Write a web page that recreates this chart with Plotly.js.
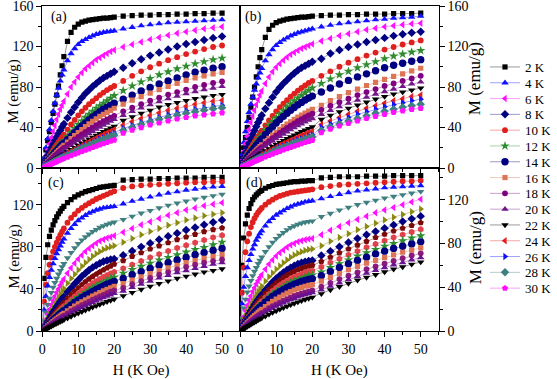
<!DOCTYPE html>
<html><head><meta charset="utf-8">
<script src="https://cdn.plot.ly/plotly-3.0.1.min.js"></script>
<style>html,body{margin:0;padding:0;background:#fff}#chart{width:557px;height:379px}</style>
</head><body><div id="chart"></div>
<script>
// Field values (kOe)
const H = [0,0.5,1,1.5,2,2.5,3,3.5,4,4.5,5,5.5,6, 7,8,9,10,11,12,13,14,15,16,17,18,19,20, 22.5,25,27.5,30,32.5,35,37.5,40,42.5,45,47.5,50];
const tempLabels = ['2 K','4 K','6 K','8 K','10 K','12 K','14 K','16 K','18 K','20 K','22 K','24 K','26 K','28 K','30 K'];
const panelLabels = ['(a)','(b)','(c)','(d)'];

// Panel (a)
const a2K = [0,9,18,27,36,45,54,63,72,81,92,101,110, 125,134,139,142,144,145,146,146.5,147,147.5,148,148,148.5,149, 150,150.5,151,151,151.5,151.5,152,152,152.5,152.5,153,153];
const a4K = [0,10,20,29,38,47,56,64,72,79,86,92,97, 106,113,118,122,125,127,129,130.5,132,133,134,134.5,135,135.5, 137.5,139,140.5,141.5,142.5,143.5,144,144.5,145,145.5,146,146.5];
const a6K = [0,6,12,18,24,30,36,42,48,53,58,62,66, 73,80,85,90,94,98,101,104,107,109,111,113,115,116.5, 119.5,122,124.5,127,129,131,133,134.5,136,137.5,138.5,139.5];
const a8K = [0,4,8,12,16,20,23.5,27,30.5,34,37,40.5,43.5, 49.5,55,60,65,69.5,73.5,77,80.5,83.5,86.5,89,91,93,95, 99,103.5,107.5,111,114,117,120,122.5,124.5,126.5,128.5,130];
const a10K = [0,3,6,9,12,15,18,20.5,23,25.5,28,30.5,33, 38,43,47.5,52,56,59.5,63,66,69,72,74.5,77,79,81, 86,91,95.5,99.5,103,106.5,109.5,112.5,115,117.5,119.5,121];
const a12K = [0,2.5,5,7.5,10,12.5,15,17,19,21,23,25,27, 31,35,39,43,46.5,50,53,56,59,61.5,64,66.5,69,71.5, 76.5,81,85,88.5,92,95,98,100.5,103,105,107,108.5];
const a14K = [0,2.2,4.4,6.6,8.8,11,13,15,17,19,21,23,24.5, 28,31.5,35,38.5,41.5,44.5,47.5,50.5,53,55.5,58,60,62,64, 68,72,76,79.5,83,86,89,92,94.5,96.5,98.5,100];
const a16K = [0,2,4,6,8,10,11.8,13.6,15.4,17.2,19,20.7,22.4, 25.7,29,32,35,38,41,43.5,46,48.5,51,53,55,57,59, 63,67,70.5,74,77.5,80.5,83.5,86.5,89,91,93,94.5];
const a18K = [0,1.8,3.6,5.4,7.1,8.8,10.5,12.1,13.7,15.3,16.8,18.3,19.8, 22.7,25.5,28.2,30.8,33.3,35.7,38,40.2,42.3,44.3,46.2,48,49.8,51.5, 56,59.5,63,66.5,69.5,72.5,75,77.5,80,82,84,85.5];
const a20K = [0,1.5,3,4.5,6,7.5,8.9,10.3,11.7,13.1,14.5,15.9,17.2, 19.8,22.3,24.8,27.2,29.5,31.8,34,36.2,38.3,40.4,42.4,44.3,46.2,48, 52,56,59.5,62.5,65.5,68.5,71,73.5,75.5,77.5,79,80.5];
const a22K = [0,1.2,2.4,3.6,4.8,6,7.2,8.3,9.4,10.5,11.6,12.7,13.8, 16,18.1,20.2,22.3,24.3,26.3,28.3,30.2,32.1,34,35.8,37.6,39.4,41, 47,50.5,54,57,60,62.5,64.5,66.5,68.5,70,71.5,72.5];
const a24K = [0,1.1,2.2,3.3,4.4,5.5,6.6,7.6,8.6,9.6,10.6,11.6,12.6, 14.6,16.6,18.5,20.4,22.3,24.2,26,27.8,29.6,31.4,33.1,34.8,36.4,38, 42.5,46,49,52,54.5,57,59,61,63,64.5,66,67];
const a26K = [0,1,2,3,4,5,6,6.9,7.8,8.7,9.6,10.5,11.4, 13.2,15,16.8,18.5,20.2,21.9,23.5,25.1,26.7,28.3,29.8,31.3,32.8,34.2, 39,42,45,47.5,50,52.5,54.5,56.5,58,59.5,61,62];
const a28K = [0,0.95,1.9,2.85,3.8,4.75,5.7,6.6,7.5,8.4,9.3,10.2,11, 12.7,14.4,16,17.6,19.2,20.8,22.3,23.8,25.3,26.8,28.2,29.6,31,32.3, 37,40,43,45.5,48,50,52,54,55.5,57,58.5,59.5];
const a30K = [0,0.8,1.6,2.4,3.2,4,4.8,5.6,6.4,7.2,8,8.7,9.4, 10.8,12.2,13.6,15,16.4,17.7,19,20.3,21.6,22.9,24.1,25.3,26.5,27.6, 34.5,37.5,40,42.5,44.5,46.5,48.5,50,51.5,52.5,53.5,54.5];

// Panel (b)
const b2K = [0,10,20,30,40,50,60,70,80,90,100,109,117, 129,137,141,143.5,145,146,147,147.5,148,148.5,149,149,149.5,150, 150.5,151,151,151.5,151.5,152,152,152,152.5,152.5,152.5,153];
const b4K = [0,13,25,36,46,55,63,70,77,83,89,94,98.5, 106,112,117,121,124,126.5,128.5,130.5,132,133.5,134.5,135.5,136.5,137.5, 139.5,141,142.5,143.5,144.5,145.5,146.5,147,148,148.5,149,150];
const b6K = [0,8,16,24,31,38,45,51,57,62.5,67.5,72,76, 83.5,90,95,99.5,103,106.5,109.5,112,114,116,118,119.5,121,122.5, 125.5,128,130.5,132.5,134.5,136.5,138,139.5,140.5,141.5,142.5,143];
const b8K = [0,5,10,15,20,24.5,29,33,37,41,45,48.5,52, 58.5,64.5,70,75,79.5,83.5,87,90.5,93.5,96.5,99,101,103,105, 108,113,116.5,119.5,122,124.5,126.5,128.5,130.5,132,133.5,134.5];
const b10K = [0,3.5,7,10.5,14,17,20,23,26,28.8,31.5,34.2,36.8, 42,47,51.5,56,60,63.5,67,70.5,73.5,76.5,79,81.5,84,86, 91,95.5,100,104,107.5,111,114,117,119.5,122,124,126];
const b12K = [0,3,6,9,12,14.8,17.5,20.2,22.8,25.4,27.9,30.3,32.7, 37.3,41.7,45.8,49.7,53.4,56.9,60.2,63.3,66.3,69.1,71.8,74.3,76.7,79, 83.5,88,92,95.5,99,102,105,108,110.5,112.5,114.5,116];
const b14K = [0,2.6,5.2,7.8,10.4,12.9,15.3,17.7,20,22.3,24.5,26.7,28.8, 33,37,40.8,44.4,47.8,51,54.1,57,59.8,62.4,64.8,67.1,69.2,71, 75,79,83,86.5,90,93,96,99,101.5,103.5,105.5,107];
const b16K = [0,2,4,6,8,10,12,13.9,15.8,17.6,19.4,21.2,22.9, 26.2,29.4,32.4,35.3,38.1,40.8,43.3,45.7,48,50.2,52.3,54.3,56.2,58, 62,66.5,70.5,74.5,78,81.5,84.5,87.5,90.5,93,96,98.5];
const b18K = [0,1.9,3.8,5.7,7.5,9.3,11,12.7,14.4,16,17.6,19.2,20.7, 23.7,26.6,29.4,32.1,34.7,37.2,39.6,41.9,44.1,46.2,48.2,50.1,51.9,53.6, 57.5,61.5,65,68.5,72,75,78,81,83.5,86,88.5,91];
const b20K = [0,1.7,3.4,5.1,6.8,8.4,10,11.5,13,14.5,16,17.4,18.8, 21.5,24.1,26.6,29,31.3,33.5,35.7,37.8,39.8,41.8,43.7,45.5,47.2,48.8, 53,57,60.5,64,67,70,73,75.5,78,80.5,83,85];
const b22K = [0,1.3,2.6,3.9,5.2,6.5,7.7,8.9,10.1,11.3,12.5,13.6,14.7, 16.9,19,21.1,23.1,25.1,27,28.9,30.7,32.5,34.2,35.9,37.5,39,40.5, 48,52,55.5,59,62,65,68,70.5,73,75,77,79];
const b24K = [0,1.15,2.3,3.45,4.6,5.7,6.8,7.9,9,10,11,12,13, 15,16.9,18.8,20.6,22.4,24.1,25.8,27.4,29,30.6,32.1,33.6,35,36.4, 43,46.5,50,53,56,59,61.5,64,66.5,68.5,70.5,72];
const b26K = [0,1,2,3,4,5,6,7,8,8.9,9.8,10.7,11.6, 13.4,15.1,16.8,18.4,20,21.5,23,24.5,25.9,27.3,28.7,30,31.3,32.5, 40,43.5,47,50,53,55.5,58,60.5,62.5,64.5,66.5,68];
const b28K = [0,0.95,1.9,2.85,3.8,4.7,5.6,6.5,7.4,8.3,9.2,10,10.8, 12.5,14.1,15.7,17.2,18.7,20.2,21.6,23,24.4,25.7,27,28.3,29.5,30.7, 37,40.5,43.5,46.5,49,51.5,54,56,58,60,61.5,63];
const b30K = [0,0.85,1.7,2.5,3.3,4.1,4.9,5.7,6.5,7.3,8.1,8.8,9.5, 11,12.4,13.8,15.2,16.5,17.8,19.1,20.4,21.6,22.8,24,25.2,26.3,27.4, 35,38.5,41.5,44,46.5,49,51,53,55,56.5,58,59];

// Panel (c)
const c1 = [0,50,70,82,90,96,101,105,108.5,111.5,114,116.5,118.5, 122,125,127.5,129.5,131,132.5,133.5,134.5,135.5,136.5,137,137.5,138,138.5, 143.5,144,144.5,144.5,145,145,145.5,145.5,145.5,146,146,146];
const c2 = [0,28,44,55,63,70,75.5,80,84,88,91.5,94.5,97.5, 103,107.5,111,114.5,117,119.5,121.5,123.5,125.5,127,128.5,130,131.5,133, 136,137.5,138.5,139,139.5,140,140.5,141,141.5,141.5,142,142];
const c3 = [0,20,33,43,51,58,64,69,73.5,77.5,81,84.5,87.5, 93,97.5,101.5,105,107.5,110,112,113.5,115,116,117,117.5,118,118.5, 121,123.5,125.5,127.5,129.5,131,132.5,134,135,136,137,137.5];
const c4 = [0,10,18,25,31,36.5,41.5,46,50,54,57.5,61,64, 69.5,74.5,79,83,86.5,89.5,92,94.5,96.5,98.5,100,101.5,102.5,103.5, 106,109,112,114.5,117,119.5,121.5,123.5,125.5,127,128.5,130];
const c5 = [0,6,11,16,20.5,25,29,33,36.5,40,43.5,46.5,49.5, 55,60,64.5,68.5,72,75.5,78.5,81,83.5,85.5,87,88.5,89.5,90.5, 94,97.5,101,104,107,110,112.5,115,117,119,120.5,122];
const c6 = [0,4,8,12,15.5,19,22.5,26,29,32,35,38,40.5, 45.5,50,54,58,61.5,65,68,71,73.5,75.5,77.5,79,80,81, 84.5,88,91.5,94.5,97.5,100.5,103,105.5,107.5,109.5,111,112.5];
const c7 = [0,3,6,9,12,15,18,20.5,23,25.5,28,30.5,32.5, 37,41,45,48.5,52,55,58,60.5,62.5,64.5,66,67,68,68.5, 72,76,80,83.5,87,90,93,96,98.5,101,103.5,105.5];
const c8 = [0,2.5,5,7.4,9.8,12.1,14.4,16.6,18.8,20.9,23,25,27, 30.8,34.4,37.8,41,44,46.8,49.4,51.8,54,56.1,58.1,60,61.8,63.5, 67,71,74.5,78,81,84,87,89.5,92,94.5,96.5,98];
const c9 = [0,2.2,4.4,6.5,8.6,10.5,12.5,14.4,16.3,18.1,20,21.8,23.5, 26.8,29.9,32.9,35.6,38.3,40.8,43.1,45.3,47.4,49.4,51.3,53,54.6,56, 59.5,63,66.5,70,73,76,79,81.5,84,86.5,89,91];
const c10 = [0,2,3.9,5.8,7.6,9.4,11.2,12.8,14.5,16.2,17.8,19.3,20.9, 23.9,26.7,29.4,31.9,34.3,36.6,38.8,40.8,42.8,44.6,46.4,48.1,49.7,51.2, 55,58.5,61.5,64.5,67.5,70,72.5,75,77.5,79.5,82,84.5];
const c11 = [0,1.8,3.6,5.4,7.1,8.7,10.4,11.9,13.4,15,16.4,17.9,19.3, 22,24.6,27.1,29.4,31.6,33.7,35.7,37.6,39.5,41.2,42.8,44.4,45.8,47.1, 50,53.5,56.5,59.5,62.5,65,67.5,70,72.5,74.5,76.5,78.5];
const c12 = [0,1.55,3.1,4.6,6.1,7.5,8.9,10.3,11.6,12.9,14.2,15.5,16.7, 19.1,21.4,23.6,25.7,27.7,29.6,31.4,33.2,34.9,36.5,38.1,39.6,41,42.4, 45,48.5,51.5,54.5,57.5,60,62.5,65,67,69,71,72.8];
const c13 = [0,1.35,2.7,4,5.3,6.6,7.8,9,10.2,11.4,12.5,13.6,14.7, 16.8,18.8,20.8,22.7,24.5,26.3,28,29.7,31.3,32.9,34.4,35.9,37.3,38.6, 41,44.5,47.5,50.5,53.5,56,58.5,61,63,65,66.5,68];
const c14 = [0,1.2,2.4,3.6,4.8,5.9,7,8.1,9.2,10.2,11.2,12.2,13.2, 15.1,17,18.8,20.6,22.3,24,25.6,27.2,28.7,30.2,31.7,33.1,34.4,35.7, 38,41.5,44.5,47.5,50.5,53,55.5,57.5,59.5,61.5,63.5,65];
const c15 = [0,0.9,1.8,2.7,3.6,4.5,5.4,6.3,7.2,8.1,9,9.8,10.6, 12.2,13.8,15.4,16.9,18.4,19.8,21.2,22.6,24,25.3,26.6,27.9,29.1,30.3, 33.5,36.5,39.5,42.5,45,47.5,50,52,54,56,57.5,59];

// Panel (d)
const d1 = [0,60,85,98,106,112,116.5,120,122.5,124.5,126,127.5,128.5, 130.5,132,133,134,134.5,135,135.5,136,136.5,136.5,137,137,137.5,137.5, 140,140.5,141,141,141,141.5,141.5,141.5,142,142,142,142];
const d2 = [0,35,58,72,82,89,95,99.5,103,106,108.5,110.5,112.5, 115.5,118,120,122,123.5,124.5,125.5,126.5,127,127.5,128,128.5,129,129.5, 131.5,132.5,133.5,134,134.5,135,135.5,136,136.5,137,137,137.5];
const d3 = [0,25,40,50,58,64.5,70,75,79,83,86,89,91.5, 96,100,103,106,108,110,112,113.5,115,116,117,118,118.5,119, 121,123,125,126.5,128,129,130,131,131.5,132,132.5,133];
const d4 = [0,12,21,29,35.5,41,46,50.5,54.5,58,61.5,64.5,67.5, 72.5,77,81,84.5,87.5,90,92.5,94.5,96,97.5,98.5,99.5,100,100.5, 104.5,107.5,110.5,113,115.5,117.5,119.5,121.5,123,124.5,126,127.5];
const d5 = [0,7,13,18.5,23.5,28,32,36,39.5,43,46,49,51.5, 56.5,61,65,68.5,71.5,74,76.5,78.5,80,81.5,82.5,83.5,84,84.5, 88,92,95.5,99,102,105,108,110.5,113,115.5,118,120.5];
const d6 = [0,5,9.5,13.5,17.5,21,24.5,27.5,30.5,33.5,36,38.5,41, 45.5,49.5,53,56.5,59.5,62.5,65,67.5,69.5,71,72.5,73.5,74.5,75, 78,82,85.5,89,92.5,95.5,98.5,101.5,104,106.5,109,111.5];
const d7 = [0,3.3,6.6,9.8,12.9,15.8,18.6,21.3,23.9,26.4,28.8,31.1,33.3, 37.4,41.2,44.7,47.9,50.8,53.4,55.8,57.9,59.7,61.2,62.4,63.3,64,64.5, 69,73,77,81,84.5,88,91,94,97,100,102.5,105];
const d8 = [0,3,6,8.9,11.7,14.4,17,19.5,21.9,24.2,26.4,28.5,30.5, 34.3,37.8,41,43.9,46.5,48.8,50.9,52.8,54.5,56,57.3,58.4,59.3,60, 63.5,67.5,71.5,75,78.5,82,85.5,88.5,91.5,94,96.5,99];
const d9 = [0,2.7,5.4,8,10.5,12.9,15.2,17.4,19.5,21.5,23.5,25.4,27.2, 30.6,33.7,36.6,39.2,41.6,43.8,45.8,47.6,49.3,50.8,52.1,53.2,54.1,55, 58.5,62.5,66,69.5,73,76.5,79.5,82.5,85.5,88,90.5,93];
const d10 = [0,2.5,5,7.4,9.7,11.9,14,16,18,19.9,21.7,23.4,25.1, 28.2,31.1,33.8,36.2,38.4,40.4,42.3,44,45.6,47,48.3,49.4,50.4,51.2, 54,58,61.5,65,68.5,71.5,74.5,77.5,80,82.5,85,87];
const d11 = [0,2.3,4.6,6.8,8.9,11,13,14.9,16.7,18.5,20.2,21.8,23.4, 26.3,29,31.5,33.8,35.9,37.8,39.6,41.2,42.7,44,45.2,46.2,47.1,47.8, 50.5,54.5,58,61.5,64.5,67.5,70.5,73,75.5,77.5,79.5,81.5];
const d12 = [0,1.9,3.8,5.6,7.4,9.1,10.8,12.4,14,15.5,17,18.4,19.8, 22.4,24.8,27.1,29.2,31.1,32.9,34.6,36.1,37.5,38.8,39.9,40.9,41.7,42.4, 45.5,49,52.5,56,59,62,64.5,67,69.5,72,74,76];
const d13 = [0,1.6,3.2,4.7,6.2,7.6,9,10.3,11.7,13,14.2,15.4,16.5, 18.7,20.8,22.7,24.4,26.1,27.7,29.2,30.6,32,33.2,34.3,35.3,36.3,37.1, 40.5,44,47.5,50.5,53.5,56.5,59,61.5,64,66.5,69,71];
const d14 = [0,1.5,3,4.4,5.8,7.1,8.4,9.6,10.8,12,13.1,14.2,15.3, 17.3,19.2,21,22.7,24.3,25.8,27.2,28.6,29.9,31.1,32.2,33.2,34.1,35, 37.5,41,44,47,50,53,55.5,58,60.5,62.5,65,67];
const d15 = [0,1,2,3,4,5,6,7,8,9,10,10.9,11.8, 13.5,15.2,16.8,18.3,19.8,21.2,22.6,23.9,25.2,26.4,27.6,28.7,29.8,30.8, 34,37.5,40.5,43.5,46.5,49,51.5,54,56.5,58.5,61,63];

const seriesA = [a2K,a4K,a6K,a8K,a10K,a12K,a14K,a16K,a18K,a20K,a22K,a24K,a26K,a28K,a30K];
const seriesB = [b2K,b4K,b6K,b8K,b10K,b12K,b14K,b16K,b18K,b20K,b22K,b24K,b26K,b28K,b30K];
const seriesC = [c1,c2,c3,c4,c5,c6,c7,c8,c9,c10,c11,c12,c13,c14,c15];
const seriesD = [d1,d2,d3,d4,d5,d6,d7,d8,d9,d10,d11,d12,d13,d14,d15];

const symAB = ['square','triangle-up','triangle-left','diamond','circle','star','circle-open-dot','square','circle','triangle-up','triangle-down','triangle-left','triangle-right','diamond','pentagon'];
const colAB = ['#000000','#1010ff','#ff10ff','#000080','#e0201e','#2e8b2e','#000080','#dd7456','#800080','#74168a','#000000','#e0201e','#1010ff','#3f7f7f','#ff10ff'];
const symCD = ['square','circle','triangle-up','triangle-down','triangle-left','triangle-right','diamond','pentagon','hexagon','star','circle-open-dot','square','circle','triangle-up','triangle-down'];
const colCD = ['#000000','#e0201e','#1010ff','#3f7f7f','#ff10ff','#8a8a10','#000080','#7a0a0a','#e2404a','#2e8b2e','#000080','#dd7456','#8a1a7a','#6a1090','#000000'];

function rgba(hex,a){const n=parseInt(hex.slice(1),16);return `rgba(${(n>>16)&255},${(n>>8)&255},${n&255},${a})`;}
function msize(s){ if(s==='square')return 5.2; if(s==='star')return 7; if(s==='circle-open-dot')return 5; if(s.startsWith('circle'))return 5.8; return 6.5; }

const data=[];
function addPanel(series, syms, cols, xa, ya, legend){
  series.forEach((ys,i)=>{
    const s=syms[i], c=cols[i];
    data.push({type:'scatter', mode:'lines+markers', x:H, y:ys, xaxis:xa, yaxis:ya,
      name: tempLabels[i], showlegend: legend, legendrank: i+1,
      line:{color: rgba(c,0.4), width:1},
      marker:{symbol:s, color:c, size:msize(s), line:{width: s.includes('open')?2.4:0, color:c}}});
  });
}
addPanel(seriesA, symAB, colAB, 'x', 'y', true);
addPanel(seriesB, symAB, colAB, 'x2', 'y2', false);
addPanel(seriesC, symCD, colCD, 'x3', 'y3', false);
addPanel(seriesD, symCD, colCD, 'x4', 'y4', false);

const W=557, HH=379;
const dxL=[43/W,244/W], dxR=[244/W,446/W];
const dyT=[1-168/HH,1-6/HH], dyB=[1-331/HH,1-168/HH];
const fnt='"Liberation Serif","Times New Roman",serif';
function xax(dom, anchor, labels){
  const o={domain:dom, anchor:anchor, range:[0,55], tick0:0, dtick:10, ticks:'outside', ticklen:5, tickwidth:1, tickcolor:'#000',
    minor:{dtick:5, ticks:'outside', ticklen:3, tickcolor:'#000'},
    showline:true, linecolor:'#000', linewidth:1, mirror:true, showgrid:false, zeroline:false,
    showticklabels:labels, ticklabeloverflow:'allow', tickfont:{family:fnt,size:14,color:'#000'}};
  if(labels) o.title={text:'H (K Oe)', font:{family:fnt,size:15,color:'#000'}, standoff:8};
  return o;
}
function yax(dom, anchor, side, rmax){
  return {domain:dom, anchor:anchor, side:side, range:[0,rmax], tick0:0, dtick:40, ticks:'outside', ticklen:5, tickwidth:1, tickcolor:'#000',
    minor:{dtick:20, ticks:'outside', ticklen:3, tickcolor:'#000'},
    showline:true, linecolor:'#000', linewidth:1, mirror:true, showgrid:false, zeroline:false,
    ticklabeloverflow:'allow', tickfont:{family:fnt,size:14,color:'#000'}};
}
const ann=[];
const lblPos=[[50,17],[247,17],[47,183],[248,183]];
panelLabels.forEach((t,i)=>ann.push({text:t, xref:'paper', yref:'paper', x:lblPos[i][0]/W, y:1-lblPos[i][1]/HH, xanchor:'left', yanchor:'middle', showarrow:false, font:{family:fnt,size:14,color:'#000'}}));
const ytPos=[[14,91,15],[14,256,15],[483,79,17],[483,248,17]];
ytPos.forEach(p=>ann.push({text:'M (emu/g)', textangle:-90, xref:'paper', yref:'paper', x:p[0]/W, y:1-p[1]/HH, xanchor:'center', yanchor:'middle', showarrow:false, font:{family:fnt,size:p[2],color:'#000'}}));

const layout={width:557, height:379, margin:{l:0,r:0,t:0,b:0}, paper_bgcolor:'#fff', plot_bgcolor:'#fff',
  font:{family:fnt, size:14, color:'#000'}, showlegend:true,
  legend:{x:493/W, y:1-52/HH, xanchor:'left', yanchor:'top', bgcolor:'rgba(0,0,0,0)', borderwidth:0, font:{family:fnt,size:13,color:'#000'}, traceorder:'normal'},
  xaxis:xax(dxL,'y',false), yaxis:yax(dyT,'x','left',160),
  xaxis2:xax(dxR,'y2',false), yaxis2:yax(dyT,'x2','right',160),
  xaxis3:xax(dxL,'y3',true), yaxis3:yax(dyB,'x3','left',155),
  xaxis4:xax(dxR,'y4',true), yaxis4:yax(dyB,'x4','right',149),
  annotations:ann};

Plotly.newPlot('chart', data, layout, {staticPlot:true, displayModeBar:false}).then(gd=>{
  const items=gd.querySelectorAll('.legend .traces');
  if(items.length){
    const m=/translate\(\s*([-\d.]+)[ ,]+([-\d.]+)\s*\)/.exec(items[0].getAttribute('transform')||'');
    if(m){const x0=+m[1], y0=+m[2]; items.forEach((el,i)=>el.setAttribute('transform',`translate(${x0},${y0+i*15.8})`));}
  }
});
</script></body></html>
